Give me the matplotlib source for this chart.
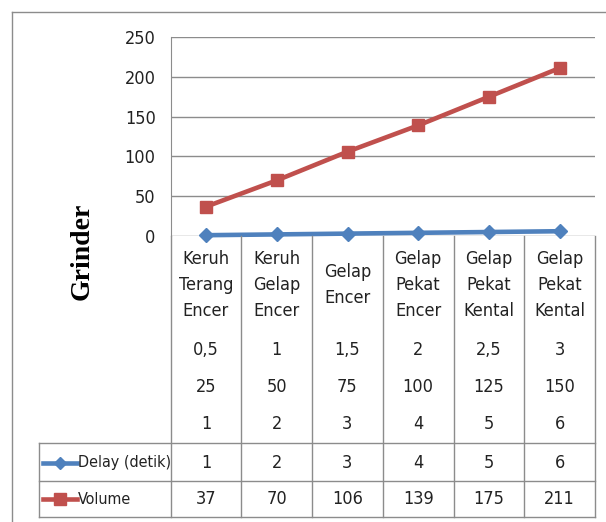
import matplotlib
matplotlib.use("Agg")
import matplotlib.pyplot as plt
from matplotlib.lines import Line2D

kategori = ["Keruh\nTerang\nEncer", "Keruh\nGelap\nEncer", "Gelap\nEncer",
            "Gelap\nPekat\nEncer", "Gelap\nPekat\nKental", "Gelap\nPekat\nKental"]
baris_a = ["0,5", "1", "1,5", "2", "2,5", "3"]
baris_b = ["25", "50", "75", "100", "125", "150"]
baris_c = ["1", "2", "3", "4", "5", "6"]
delay = [1, 2, 3, 4, 5, 6]
volume = [37, 70, 106, 139, 175, 211]

biru = "#4F81BD"
merah = "#C0504D"
garis = "#8c8c8c"
W, H = 606, 522

fig = plt.figure(figsize=(W / 100, H / 100), dpi=100)
fp = dict(family="DejaVu Sans", stretch="condensed", fontsize=13)

def kotak(x0, y0, x1, y1):
    # kotak piksel (asal kiri atas) -> fraksi figure
    return [x0 / W, 1 - y1 / H, (x1 - x0) / W, (y1 - y0) / H]

# frame luar
fig.add_artist(Line2D([12 / W, 12 / W], [0, 1 - 12 / H], color=garis, lw=1))
fig.add_artist(Line2D([12 / W, 1], [1 - 12 / H, 1 - 12 / H], color=garis, lw=1))

# grafik
ax = fig.add_axes(kotak(171, 37, 595, 236))
x = list(range(len(delay)))
ax.plot(x, volume, color=merah, lw=3.3, marker="s", ms=9, zorder=3, clip_on=False)
ax.plot(x, delay, color=biru, lw=3.3, marker="D", ms=7, zorder=4, clip_on=False)
ax.set_xlim(-0.5, 5.5)
ax.set_ylim(0, 250)
ax.set_yticks(range(0, 251, 50))
ax.grid(axis="y", color=garis, lw=1)
ax.set_axisbelow(True)
ax.set_xticks([])
for s in ["top", "right", "bottom"]:
    ax.spines[s].set_visible(False)
ax.spines["left"].set_color(garis)
ax.tick_params(axis="y", length=0, pad=11, labelcolor="#222222")
for t in ax.get_yticklabels():
    t.set_family(fp["family"])
    t.set_stretch(fp["stretch"])
    t.set_fontsize(fp["fontsize"])

fig.text(82 / W, 1 - 251 / H, "Grinder", rotation=90, ha="center", va="center",
         family="Liberation Serif", weight="bold", fontsize=20)

# tabel data
tb = fig.add_axes(kotak(39, 236, 595, 517))
lebar = 71.0
kiri = -0.5 - (171 - 39) / lebar
tb.set_xlim(kiri, 5.5)
tb.set_ylim(517, 236)
tb.axis("off")

def hline(y, x0, x1):
    tb.plot([x0, x1], [y, y], color=garis, lw=1, clip_on=False)

def vline(xv, y0, y1):
    tb.plot([xv, xv], [y0, y1], color=garis, lw=1, clip_on=False)

for i in range(7):
    vline(i - 0.5, 236, 517)
vline(kiri, 443, 517)
hline(443, kiri, 5.5)
hline(481, kiri, 5.5)
hline(517, kiri, 5.5)

teks = dict(ha="center", va="center", color="#222222", **fp)
for i in range(6):
    tb.text(i, 285, kategori[i], linespacing=1.6, **teks)
    tb.text(i, 350, baris_a[i], **teks)
    tb.text(i, 387, baris_b[i], **teks)
    tb.text(i, 424, baris_c[i], **teks)
    tb.text(i, 463, str(delay[i]), **teks)
    tb.text(i, 499, str(volume[i]), **teks)

# kunci legenda
lx0 = kiri + 4 / lebar
lx1 = kiri + 38 / lebar
tb.plot([lx0, lx1], [463, 463], color=biru, lw=3.3, clip_on=False)
tb.plot([(lx0 + lx1) / 2], [463], color=biru, marker="D", ms=6, clip_on=False)
tb.plot([lx0, lx1], [499, 499], color=merah, lw=3.3, clip_on=False)
tb.plot([(lx0 + lx1) / 2], [499], color=merah, marker="s", ms=8, clip_on=False)
leg = dict(fp, fontsize=11.5)
tb.text(lx1 + 0.01, 463, "Delay (detik)", ha="left", va="center", color="#222222", **leg)
tb.text(lx1 + 0.01, 499, "Volume", ha="left", va="center", color="#222222", **leg)

fig.savefig("out.png", dpi=100)
